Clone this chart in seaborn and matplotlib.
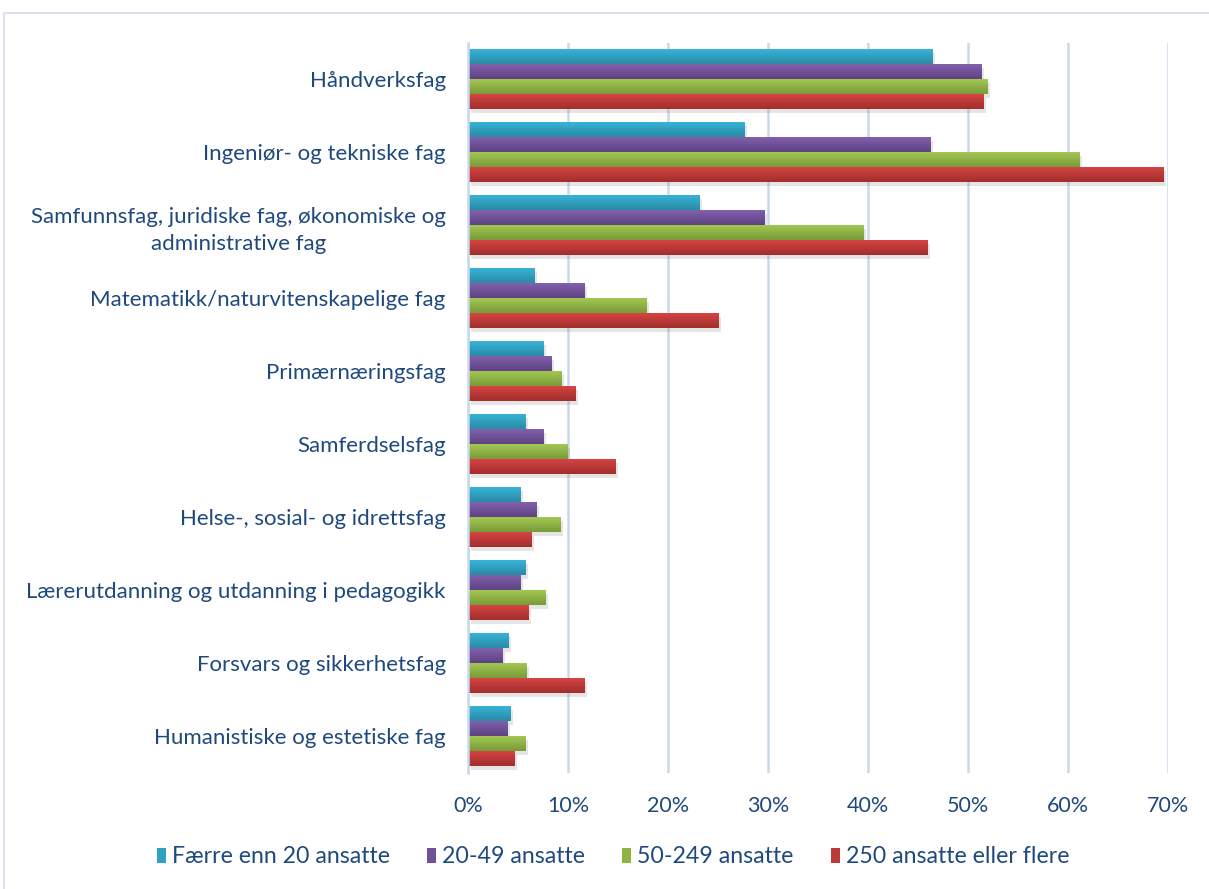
import numpy as np
import pandas as pd
import matplotlib
matplotlib.use("Agg")
import matplotlib.pyplot as plt
import seaborn as sns
from matplotlib import patheffects as pe
from matplotlib.colors import to_rgb
from matplotlib.patches import Rectangle

categories = [
    "Håndverksfag",
    "Ingeniør- og tekniske fag",
    "Samfunnsfag, juridiske fag, økonomiske og\nadministrative fag",
    "Matematikk/naturvitenskapelige fag",
    "Primærnæringsfag",
    "Samferdselsfag",
    "Helse-, sosial- og idrettsfag",
    "Lærerutdanning og utdanning i pedagogikk",
    "Forsvars og sikkerhetsfag",
    "Humanistiske og estetiske fag",
]
series = ["Færre enn 20 ansatte", "20-49 ansatte", "50-249 ansatte", "250 ansatte eller flere"]
v_under_20 = [46.4, 27.6, 23.1, 6.6, 7.5, 5.7, 5.2, 5.7, 4.0, 4.2]
v_20_49 = [51.3, 46.2, 29.6, 11.6, 8.3, 7.5, 6.8, 5.2, 3.4, 3.9]
v_50_249 = [51.9, 61.1, 39.5, 17.8, 9.3, 9.9, 9.2, 7.7, 5.8, 5.7]
v_250_plus = [51.5, 69.5, 45.9, 25.0, 10.7, 14.7, 6.3, 6.0, 11.6, 4.6]
xticks = [0, 10, 20, 30, 40, 50, 60, 70]
xtick_labels = ["0%", "10%", "20%", "30%", "40%", "50%", "60%", "70%"]

top_colors = ["#37B4D8", "#8261AD", "#A3C851", "#D54442"]
bottom_colors = ["#2A8AA5", "#5E4282", "#799A39", "#A12E2D"]
mid_colors = ["#31A1C1", "#715298", "#8FB245", "#BE3A38"]

text_color = "#1F497D"
font = ["Lato", "DejaVu Sans"]

rows = []
for s, vals in zip(series, [v_under_20, v_20_49, v_50_249, v_250_plus]):
    for c, v in zip(categories, vals):
        rows.append({"cat": c, "series": s, "val": v})
df = pd.DataFrame(rows)

sns.set_theme(style="white")
plt.rcParams["font.family"] = font

fig = plt.figure(figsize=(12.09, 8.89), dpi=100)
ax = fig.add_axes([0.387, 0.131, 0.966 - 0.387, 0.952 - 0.131])

sns.barplot(data=df, y="cat", x="val", hue="series", order=categories,
            hue_order=series, palette=mid_colors, orient="h", width=0.82,
            saturation=1, legend=False, ax=ax, edgecolor="none", linewidth=0)

# gradients and soft shadows
for ci, cont in enumerate(ax.containers):
    c_top = np.array(to_rgb(top_colors[ci]))
    c_bot = np.array(to_rgb(bottom_colors[ci]))
    grad = np.linspace(0, 1, 64)[:, None, None]
    img = (1 - grad) * c_top + grad * c_bot
    for p in cont.patches:
        p.set_path_effects([pe.SimplePatchShadow(offset=(2, -3), alpha=0.15,
                                                 shadow_rgbFace="#555555"),
                            pe.Normal()])
        x0, y0 = p.get_x(), p.get_y()
        w, h = p.get_width(), p.get_height()
        im = ax.imshow(img, extent=(x0, x0 + w, y0 + h, y0), aspect="auto",
                       origin="upper", zorder=p.get_zorder() + 0.1,
                       interpolation="bilinear")
        im.set_clip_path(p)

ax.set_xlim(0, 70)
ax.set_ylim(len(categories) - 0.5, -0.5)
ax.set_xticks(xticks)
ax.set_xticklabels(xtick_labels)
ax.set_xlabel("")
ax.set_ylabel("")
ax.xaxis.grid(True, color="#C9D9EC", linewidth=1.8)
ax.yaxis.grid(False)
ax.set_axisbelow(True)
for s in ["top", "right", "bottom"]:
    ax.spines[s].set_visible(False)
ax.spines["left"].set_color("#C9D9EC")
ax.spines["left"].set_linewidth(1.8)
ax.tick_params(axis="both", length=0, labelcolor=text_color)
ax.tick_params(axis="y", pad=16, labelsize=16)
ax.tick_params(axis="x", pad=17, labelsize=15.5)
for lab in ax.get_yticklabels():
    lab.set_multialignment("center")
    lab.set_linespacing(1.45)
    lab.set_fontfamily(font)
for lab in ax.get_xticklabels():
    lab.set_fontfamily(font)

handles = [Rectangle((0, 0), 1, 1, facecolor=c, edgecolor="none") for c in mid_colors]
leg = fig.legend(handles, series, loc="center", bbox_to_anchor=(0.507, 0.036),
                 ncol=4, frameon=False, handlelength=0.4,
                 handleheight=0.62, handletextpad=0.25, columnspacing=1.6,
                 prop={"family": font, "size": 16.7})
for t in leg.get_texts():
    t.set_color(text_color)

fig.add_artist(Rectangle((4 / 1209, -0.01), 1.1, 1 - 13 / 889 + 0.01,
                         transform=fig.transFigure, fill=False,
                         edgecolor="#D3DEEA", linewidth=1.2))

fig.savefig("out.png", dpi=100)
